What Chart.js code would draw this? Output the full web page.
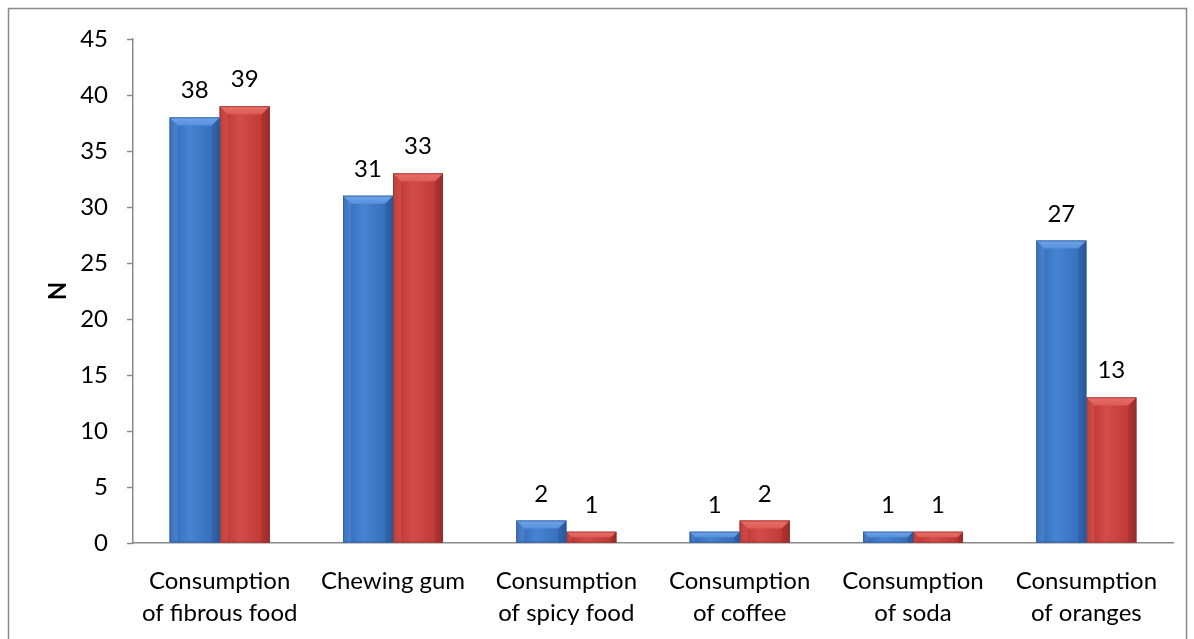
<!DOCTYPE html>
<html>
<head>
<meta charset="utf-8">
<script src="https://cdn.jsdelivr.net/npm/chart.js@4/dist/chart.umd.min.js"></script>
<style>
  html, body { margin: 0; padding: 0; background: #ffffff; }
  #wrap { width: 1194px; height: 639px; position: relative; }
</style>
</head>
<body>
<div id="wrap"><canvas id="c" width="1194" height="639"></canvas></div>
<script>
// Categories (two-line labels) and the two series of counts
const categories = [
  ['Consumption', 'of fibrous food'],
  'Chewing gum',
  ['Consumption', 'of spicy food'],
  ['Consumption', 'of coffee'],
  ['Consumption', 'of soda'],
  ['Consumption', 'of oranges']
];
const seriesBlue = [38, 31, 2, 1, 1, 27];
const seriesRed  = [39, 33, 1, 2, 1, 13];
const yTicks = [0, 5, 10, 15, 20, 25, 30, 35, 40, 45];

const FONT = 'Lato, "Open Sans", sans-serif';
const AXIS = '#898989';

// Palette for the bevelled bar look
const palettes = [
  { dark: '#2a5898', body: '#3770bc', light: '#4683d2', top: '#6ea4ea', side: '#5890dc' },
  { dark: '#982d2a', body: '#c03a38', light: '#d24d49', top: '#e8706a', side: '#dc5b56' }
];

// Draws gradient body + bevel on top of each bar element
const bevelBars = {
  id: 'bevelBars',
  afterDatasetDraw(chart, args) {
    const ctx = chart.ctx;
    const meta = args.meta;
    const pal = palettes[args.index];
    meta.data.forEach(el => {
      const w = el.width;
      const x0 = el.x - w / 2, x1 = el.x + w / 2;
      const y0 = el.y, y1 = el.base;
      const h = y1 - y0;
      if (h <= 0) return;
      ctx.save();
      const g = ctx.createLinearGradient(x0, 0, x1, 0);
      g.addColorStop(0, pal.dark);
      g.addColorStop(0.12, pal.body);
      g.addColorStop(0.4, pal.light);
      g.addColorStop(0.85, pal.body);
      g.addColorStop(1, pal.dark);
      ctx.fillStyle = g;
      ctx.fillRect(x0, y0, w, h);
      const b = Math.min(8, h / 2, w / 4);
      ctx.fillStyle = pal.side;
      ctx.globalAlpha = 0.45;
      ctx.beginPath();
      ctx.moveTo(x0, y0); ctx.lineTo(x0 + b, y0 + b); ctx.lineTo(x0 + b, y1); ctx.lineTo(x0, y1);
      ctx.closePath(); ctx.fill();
      ctx.fillStyle = pal.dark;
      ctx.beginPath();
      ctx.moveTo(x1, y0); ctx.lineTo(x1 - b, y0 + b); ctx.lineTo(x1 - b, y1); ctx.lineTo(x1, y1);
      ctx.closePath(); ctx.fill();
      ctx.globalAlpha = 1;
      const tg = ctx.createLinearGradient(0, y0, 0, y0 + b);
      tg.addColorStop(0, pal.top);
      tg.addColorStop(1, pal.side);
      ctx.fillStyle = tg;
      ctx.beginPath();
      ctx.moveTo(x0, y0); ctx.lineTo(x1, y0); ctx.lineTo(x1 - b, y0 + b); ctx.lineTo(x0 + b, y0 + b);
      ctx.closePath(); ctx.fill();
      ctx.strokeStyle = pal.dark;
      ctx.globalAlpha = 0.6;
      ctx.lineWidth = 1;
      ctx.strokeRect(x0 + 0.5, y0 + 0.5, w - 1, h - 1);
      ctx.restore();
    });
  }
};

// Value labels above each bar
const valueLabels = {
  id: 'valueLabels',
  afterDatasetsDraw(chart) {
    const ctx = chart.ctx;
    ctx.save();
    ctx.font = '24px ' + FONT;
    ctx.fillStyle = '#000';
    ctx.textAlign = 'center';
    ctx.textBaseline = 'alphabetic';
    chart.data.datasets.forEach((ds, i) => {
      chart.getDatasetMeta(i).data.forEach((el, j) => {
        ctx.fillText(String(ds.data[j]), el.x, el.y - 19);
      });
    });
    ctx.restore();
  }
};

// Outer frame of the chart
const frame = {
  id: 'frame',
  beforeDraw(chart) {
    const ctx = chart.ctx;
    ctx.save();
    ctx.fillStyle = '#fff';
    ctx.fillRect(0, 0, chart.width, chart.height);
    ctx.strokeStyle = AXIS;
    ctx.lineWidth = 1.5;
    ctx.strokeRect(8.5, 8.5, 1178, 700);
    ctx.restore();
  }
};

new Chart(document.getElementById('c'), {
  type: 'bar',
  data: {
    labels: categories,
    datasets: [
      { data: seriesBlue, backgroundColor: palettes[0].body, borderWidth: 0 },
      { data: seriesRed, backgroundColor: palettes[1].body, borderWidth: 0 }
    ]
  },
  options: {
    responsive: false,
    animation: false,
    devicePixelRatio: 1,
    categoryPercentage: 0.577,
    barPercentage: 1,
    layout: { padding: { left: 0, right: 21, top: 39, bottom: 0 } },
    plugins: { legend: { display: false }, tooltip: { enabled: false } },
    scales: {
      x: {
        afterFit(scale) { scale.height = 96; },
        grid: { drawOnChartArea: false, drawTicks: false },
        border: { display: true, color: AXIS, width: 1.5 },
        ticks: { color: '#000', font: { family: FONT, size: 24, lineHeight: 1.33 }, padding: 22, maxRotation: 0, autoSkip: false }
      },
      y: {
        min: 0, max: 45,
        afterBuildTicks(scale) { scale.ticks = yTicks.map(v => ({ value: v })); },
        afterFit(scale) { scale.width = 133; },
        grid: { drawOnChartArea: false, drawTicks: true, tickLength: 6, tickColor: AXIS, tickWidth: 1.5 },
        border: { display: true, color: AXIS, width: 1.5 },
        ticks: { color: '#000', font: { family: FONT, size: 24 }, padding: 19 },
        title: { display: true, text: 'N', color: '#000', font: { family: FONT, size: 24, weight: 'bold', lineHeight: 1 }, padding: { top: 46, bottom: 0 } }
      }
    }
  },
  plugins: [frame, bevelBars, valueLabels]
});
</script>
</body>
</html>
